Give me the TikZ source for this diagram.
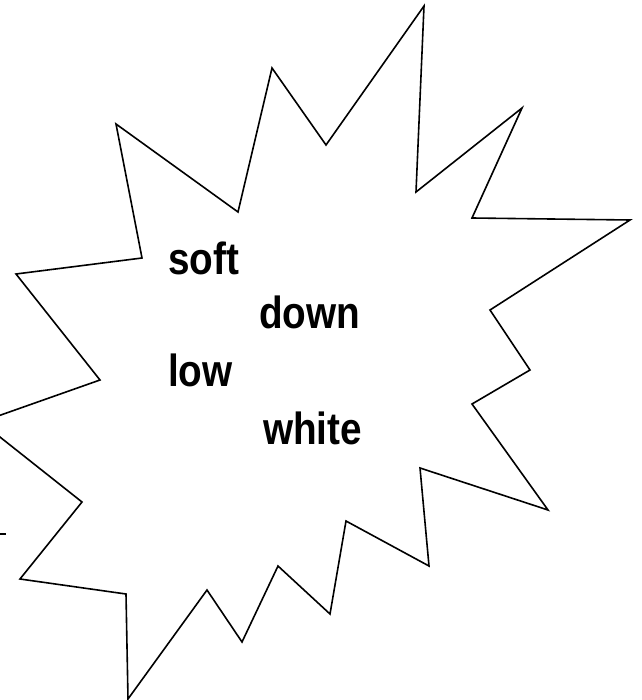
\documentclass[tikz,border=0pt]{standalone}
\usepackage{fontspec}
\setmainfont{Liberation Sans}
\newfontfamily\burstfont[FakeStretch=0.86]{Liberation Sans}
\usetikzlibrary{positioning}

\begin{document}
\begin{tikzpicture}[
      x=1pt, y=-1pt,
      burst/.style={draw, line width=1.6pt, line join=miter, fill=white},
      word/.style={anchor=base west, inner sep=0pt,
        font=\burstfont\bfseries\fontsize{45}{54}\selectfont}
    ]
      \useasboundingbox (0,0) rectangle (641,700);
      \clip (0,0) rectangle (641,700);

      % starburst outline
      \draw[burst] (272,68) -- (326,145) -- (424,6) -- (416,192) -- (522,108)
        -- (472,218) -- (630,220) -- (490,310) -- (530,370) -- (472,404)
        -- (548,510) -- (420,468) -- (429,566) -- (346,521) -- (330,614)
        -- (278,566) -- (242,642) -- (207,590) -- (128,699) -- (126,594)
        -- (20,579) -- (82,502) -- (-19,422) -- (100,380) -- (16,274)
        -- (142,258) -- (116,124) -- (238,212) -- cycle;

      % stray tick at the left edge
      \draw[line width=1.6pt] (0,534) -- (6,534);

      % words
      \node[word] (soft) at (168,274) {soft};
      \node[word] (down) at (259,328) {down};
      \node[word] (low) at (168,386) {low};
      \node[word] (white) at (263,444) {white};
    \end{tikzpicture}
\end{document}
